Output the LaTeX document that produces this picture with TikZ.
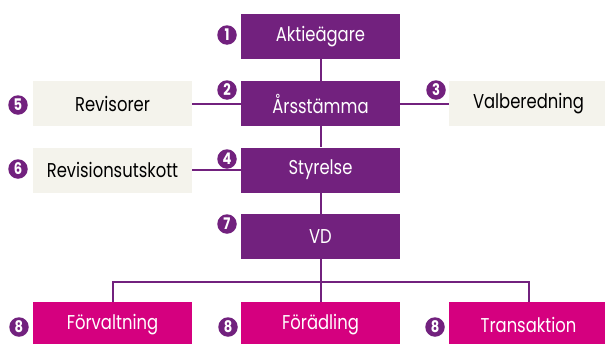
\documentclass[tikz,border=0pt]{standalone}
\usepackage{fontspec}
\setmainfont[FakeStretch=0.82]{Poppins}
\definecolor{lila}{HTML}{72217E}
\definecolor{magenta}{HTML}{D5007F}
\definecolor{beige}{HTML}{F4F3EC}
\tikzset{
  organ/.style={fill=lila, text=white, minimum width=159pt, minimum height=45pt, inner sep=0pt, font=\fontsize{20}{21}\selectfont},
  extern/.style={fill=beige, text=black, minimum width=159pt, minimum height=45pt, inner sep=0pt, font=\fontsize{20}{21}\selectfont},
  enhet/.style={fill=magenta, text=white, minimum width=159pt, minimum height=45pt, inner sep=0pt, font=\fontsize{20}{21}\selectfont},
  nummer/.style={circle, fill=lila, text=white, minimum size=19.5pt, inner sep=0pt, font=\fontsize{16}{16}\selectfont\bfseries},
  linje/.style={draw=lila, line width=2pt}
}
\begin{document}
\begin{tikzpicture}[x=1pt, y=-1pt]
	\useasboundingbox (0,0) rectangle (605,343);
	\begin{scope}
	\clip (0,0) rectangle (605,343);
	% huvudkedjan
	\node[organ] (aktie) at (320.5,36.5) {Aktieägare};
	\node[organ] (arsst) at (320.5,103.5) {Årsstämma};
	\node[organ] (styr) at (320.5,170) {Styrelse};
	\node[organ] (vd) at (320.5,236.5) {VD};
	% sidoorgan
	\node[extern] (revis) at (112.5,103.5) {Revisorer};
	\node[extern] (valb) at (528.5,103.5) {Valberedning};
	\node[extern] (revut) at (112.5,170) {Revisionsutskott};
	% affärsområden
	\node[enhet] (forv) at (112.5,324.5) {Förvaltning};
	\node[enhet] (fored) at (320.5,324.5) {Förädling};
	\node[enhet] (trans) at (528.5,324.5) {Transaktion};
	\coordinate (buss) at (320.5,282);
	% linjer
	\draw[linje] (aktie) -- (arsst);
	\draw[linje] (arsst) -- (styr);
	\draw[linje] (styr) -- (vd);
	\draw[linje] (revis) -- (arsst);
	\draw[linje] (arsst) -- (valb);
	\draw[linje] (revut) -- (styr);
	\draw[linje] (vd) -- (fored);
	\draw[linje] (forv.north) |- (buss) -| (trans.north);
	% nummer
	\node[nummer] (n1) at (227,35) {1};
	\node[nummer] (n2) at (227,90) {2};
	\node[nummer] (n3) at (436,90) {3};
	\node[nummer] (n4) at (227,159) {4};
	\node[nummer] (n5) at (18,105) {5};
	\node[nummer] (n6) at (18,169) {6};
	\node[nummer] (n7) at (227,224) {7};
	\node[nummer] (n8a) at (19,327) {8};
	\node[nummer] (n8b) at (228,327) {8};
	\node[nummer] (n8c) at (435,327) {8};
	\end{scope}
\end{tikzpicture}
\end{document}
